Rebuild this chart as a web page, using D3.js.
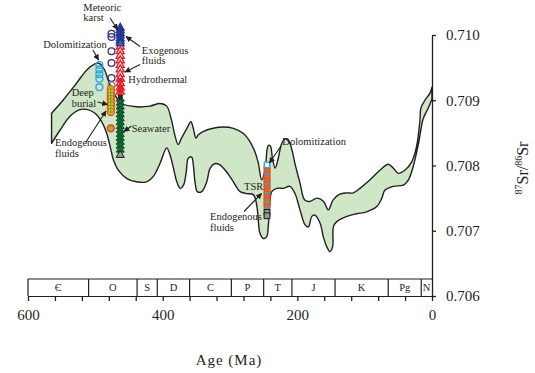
<!DOCTYPE html>
<html>
<head>
<meta charset="utf-8">
<script src="https://cdn.jsdelivr.net/npm/d3@7"></script>
<style>
  html, body { margin: 0; padding: 0; background: #fff; }
  svg { display: block; font-family: "Liberation Serif", "Times New Roman", serif; }
</style>
</head>
<body>
<svg id="chart" width="535" height="373"></svg>
<script>
// ---- Seawater 87Sr/86Sr envelope through the Phanerozoic: [age Ma, ratio] ----
const bandUpper = [
  [565,0.70880],[548,0.70900],[528,0.70926],[513,0.70946],[500,0.70956],[495,0.70957],
  [486,0.70946],[481,0.70931],[471,0.70908],[461,0.70895],[439,0.70890],[419,0.70891],
  [404,0.70895],[394,0.70891],[387,0.70870],[382,0.70847],[377,0.70832],[372,0.70842],
  [364,0.70857],[358,0.70867],[354.5,0.70857],[350.5,0.70842],[347,0.70847],[340,0.70852],
  [325,0.70857],[310,0.70859],[295,0.70857],[280,0.70849],[270,0.70836],[263,0.70821],
  [258,0.70804],[253,0.70778],[248,0.70793],[245,0.70824],[243,0.70831],[240,0.70830],
  [237,0.70811],[233,0.70796],[229,0.70808],[223,0.70834],[218,0.70841],[212,0.70836],
  [208,0.70824],[203.5,0.70803],[196,0.70773],[189,0.70747],[181,0.70745],[171,0.70750],
  [161,0.70745],[154,0.70732],[147,0.70747],[137,0.70756],[127,0.70758],[117,0.70758],
  [107,0.70765],[92,0.70778],[77,0.70793],[65,0.70802],[57.5,0.70796],[50,0.70788],
  [40,0.70793],[30,0.70806],[23,0.70829],[18,0.70868],[16.5,0.70888],[10.5,0.70900],
  [3,0.70911],[0,0.70920]
];
const bandLower = [
  [565,0.70834],[552.5,0.70854],[538,0.70875],[525,0.70885],[513,0.70886],[500.5,0.70880],
  [490.5,0.70867],[483,0.70849],[478,0.70829],[473,0.70808],[466,0.70793],[453,0.70780],
  [439,0.70775],[424,0.70775],[414,0.70783],[404,0.70803],[394,0.70827],[389,0.70816],
  [384,0.70796],[379,0.70775],[374,0.70765],[369,0.70770],[365,0.70790],[362,0.70811],
  [357,0.70813],[354.5,0.70801],[352,0.70775],[348.5,0.70760],[342,0.70760],[334.5,0.70775],
  [329.5,0.70796],[322,0.70803],[315,0.70801],[305,0.70790],[295,0.70775],[285,0.70760],
  [275,0.70757],[265,0.70755],[260,0.70737],[258,0.70716],[255.5,0.70696],[250.5,0.70688],
  [245.5,0.70691],[243,0.70709],[240.5,0.70747],[238,0.70760],[230.5,0.70765],[221,0.70765],
  [211,0.70768],[203.5,0.70757],[196,0.70732],[188.5,0.70709],[183.5,0.70706],[178.5,0.70722],
  [174,0.70724],[166,0.70711],[161.5,0.70691],[156.5,0.70676],[151.5,0.70668],[147.5,0.70676],
  [146.5,0.70706],[141.5,0.70714],[126.5,0.70722],[112,0.70726],[97,0.70729],[82,0.70737],
  [74.5,0.70750],[70,0.70762],[57.5,0.70768],[42.5,0.70770],[35,0.70778],[28,0.70798],
  [20,0.70834],[13,0.70872],[5.5,0.70888],[0,0.70902]
];

// ---- Geological periods ----
const periodNames  = ["Є","O","S","D","C","P","T","J","K","Pg","N"];
const periodStarts = [600, 510, 438, 408, 360, 298, 250, 208, 144, 65, 16];

// ---- Axis ticks ----
const ageTicks = [600,560,520,480,440,400,360,320,280,240,200,160,120,80,40,0];
const ageLabels = [600, 400, 200, 0];
const srTicks = [0.706, 0.707, 0.708, 0.709, 0.710];

// ---- Ordovician carbonate samples (ages in Ma) ----
const karstAge = 476;        const karstSr = [0.71002, 0.70997, 0.70975, 0.70957, 0.70934];
const grayCircleAge = 476;   const grayCircleSr = [0.70923];
const dolomiteAge = 494;     const dolomiteSr = [0.70954, 0.70947, 0.70940, 0.70933, 0.70920];
const triAge = 463;
const exogenousSr = [0.71011, 0.71007, 0.71003, 0.70999, 0.70995, 0.70991, 0.70987];
const hydrothermalSr = [0.70982, 0.70975, 0.70968, 0.70961, 0.70954, 0.70947, 0.70940,
                        0.70933, 0.70926, 0.70919, 0.70913];
const hydrothermalFilledSr = [0.70930, 0.70920, 0.70914];
const blackMarkSr = [0.70909, 0.70906];
const seawaterSr = [0.70902, 0.70896, 0.70890, 0.70884, 0.70878, 0.70872, 0.70866,
                    0.70860, 0.70854, 0.70848, 0.70842, 0.70836, 0.70830, 0.70824];
const grayTriSr = [0.70816];
const burialAge = 477;
const burialSr = [0.70917, 0.70912, 0.70907, 0.70902, 0.70897, 0.70892, 0.70887, 0.70882];
const endoCircleAge = 477;   const endoCircleSr = [0.70857];

// ---- Triassic samples ----
const tsrAge = 245;
const tsrSr = [0.70796, 0.70791, 0.70786, 0.70781, 0.70776, 0.70771, 0.70766, 0.70761,
               0.70756, 0.70751, 0.70746, 0.70741, 0.70736];
const tsrDoloSr = [0.70801, 0.70786, 0.70772, 0.70758, 0.70745, 0.70735];
const tsrGraySr = [0.70728, 0.70723];

// ---- Annotations: text lines anchored in chart units ----
const annotations = [
  { lines: ["Meteoric", "karst"], age: 517.8, sr: 0.710368 },
  { lines: ["Dolomitization"], age: 577.3, sr: 0.709801 },
  { lines: ["Exogenous", "fluids"], age: 431.1, sr: 0.709716 },
  { lines: ["Hydrothermal"], age: 451, sr: 0.709257 },
  { lines: ["Deep", "burial"], age: 535.1, sr: 0.709061 },
  { lines: ["Endogenous", "fluids"], age: 559.9, sr: 0.708294 },
  { lines: ["Seawater"], age: 446, sr: 0.708513 },
  { lines: ["Dolomitization"], age: 222.3, sr: 0.708310 },
  { lines: ["TSR"], age: 279.2, sr: 0.707620 },
  { lines: ["Endogenous", "fluids"], age: 329.7, sr: 0.707160 }
];
const arrows = [
  [[478.2,0.710261],[467.1,0.710084]],
  [[433.6,0.709824],[454.4,0.709977]],
  [[433.6,0.709548],[455.9,0.709433]],
  [[503.5,0.709770],[495.3,0.709617]],
  [[496.8,0.708973],[481.9,0.708935]],
  [[513.9,0.708360],[484.2,0.708835]],
  [[446.3,0.708605],[457.4,0.708521]],
  [[224.3,0.708299],[241.3,0.708038]],
  [[279.2,0.707295],[253.2,0.707571]]
];

// ---- Drawing ----
const svg = d3.select("#chart");
const x = d3.scaleLinear().domain([600, 0]).range([28, 432]);
const y = d3.scaleLinear().domain([0.706, 0.710]).range([296, 35]);
const ink = "#231f20";

// arrowhead
svg.append("defs").append("marker")
  .attr("id", "head").attr("viewBox", "0 0 10 10")
  .attr("refX", 9).attr("refY", 5)
  .attr("markerWidth", 6).attr("markerHeight", 6)
  .attr("markerUnits", "userSpaceOnUse")
  .attr("orient", "auto")
  .append("path").attr("d", "M0,0 L10,5 L0,10 Z").attr("fill", ink);

// envelope
const bandLine = d3.line().x(d => x(d[0])).y(d => y(d[1])).curve(d3.curveCatmullRom.alpha(0.5));
const upperPath = bandLine(bandUpper);
const lowerPath = bandLine(bandLower.slice().reverse());
svg.append("path")
  .attr("d", upperPath + lowerPath.replace(/^M/, "L") + "Z")
  .attr("fill", "#cfe6c7")
  .attr("stroke", ink)
  .attr("stroke-width", 1.4)
  .attr("stroke-linejoin", "round");

// geological time bar
const barTop = y(0.706) - 17;
const periods = periodNames.map((n, i) => ({
  name: n, start: periodStarts[i], end: i + 1 < periodStarts.length ? periodStarts[i + 1] : 0
}));
const bar = svg.append("g");
bar.append("line").attr("x1", x(600)).attr("x2", x(0)).attr("y1", barTop).attr("y2", barTop)
  .attr("stroke", ink).attr("stroke-width", 1.2);
bar.selectAll("line.sep").data(periodStarts).join("line").attr("class", "sep")
  .attr("x1", d => x(d)).attr("x2", d => x(d))
  .attr("y1", barTop).attr("y2", y(0.706))
  .attr("stroke", ink).attr("stroke-width", 1.2);
bar.selectAll("text").data(periods).join("text")
  .attr("x", d => (x(d.start) + x(d.end)) / 2)
  .attr("y", barTop + 12)
  .attr("text-anchor", "middle")
  .attr("font-size", 10.5)
  .attr("fill", ink)
  .text(d => d.name);

// bottom axis
const xAxis = svg.append("g").attr("transform", `translate(0,${y(0.706)})`)
  .call(d3.axisBottom(x).tickValues(ageTicks).tickSize(5).tickSizeOuter(0).tickPadding(8)
    .tickFormat(d => ageLabels.includes(d) ? d : ""));
xAxis.select(".domain").attr("stroke", ink).attr("stroke-width", 1.2);
xAxis.selectAll(".tick line").attr("stroke", ink).attr("stroke-width", 1.3);
xAxis.selectAll(".tick text").attr("font-size", 15).attr("fill", ink)
  .attr("font-family", "Liberation Serif, serif");

// right axis
const yAxis = svg.append("g").attr("transform", `translate(${x(0)},0)`)
  .call(d3.axisRight(y).tickValues(srTicks).tickSize(4).tickSizeOuter(0).tickPadding(10)
    .tickFormat(d3.format(".3f")));
yAxis.select(".domain").attr("stroke", ink).attr("stroke-width", 1.3);
yAxis.selectAll(".tick line").attr("stroke", ink).attr("stroke-width", 1.3);
yAxis.selectAll(".tick text").attr("font-size", 15).attr("fill", ink)
  .attr("font-family", "Liberation Serif, serif");

// axis titles
svg.append("text")
  .attr("x", 229).attr("y", 365)
  .attr("text-anchor", "middle")
  .attr("font-size", 15).attr("letter-spacing", 1).attr("fill", ink)
  .text("Age (Ma)");
const yTitle = svg.append("text")
  .attr("transform", "translate(528,168) rotate(-90)")
  .attr("text-anchor", "middle")
  .attr("font-size", 16).attr("fill", ink);
yTitle.append("tspan").attr("font-size", 10).attr("dy", -6).text("87");
yTitle.append("tspan").attr("dy", 6).text("Sr/");
yTitle.append("tspan").attr("font-size", 10).attr("dy", -6).text("86");
yTitle.append("tspan").attr("dy", 6).text("Sr");

// ---- sample markers ----
const marks = svg.append("g");
const tri = d3.symbol(d3.symbolTriangle, 28)();
const sq = d3.symbol(d3.symbolSquare, 34)();

function circles(age, vals, stroke, fill, r, sw) {
  marks.append("g").selectAll("circle").data(vals).join("circle")
    .attr("cx", x(age)).attr("cy", d => y(d)).attr("r", r)
    .attr("fill", fill).attr("stroke", stroke).attr("stroke-width", sw);
}
function symbols(age, vals, path, stroke, fill, sw) {
  marks.append("g").selectAll("path").data(vals).join("path")
    .attr("d", path)
    .attr("transform", d => `translate(${x(age)},${y(d)})`)
    .attr("fill", fill).attr("stroke", stroke).attr("stroke-width", sw);
}

circles(dolomiteAge, dolomiteSr, "#27aae1", "none", 3.4, 1.4);
circles(karstAge, karstSr, "#2e3192", "none", 3.4, 1.3);
circles(grayCircleAge, grayCircleSr, "#808080", "none", 3.4, 1.4);

// deep burial column: orange with yellow cores and green crosses
circles(burialAge, burialSr, "#ef4b23", "#f7941d", 3.6, 1.1);
circles(burialAge, burialSr, "none", "#ffe600", 2, 0);
marks.append("g").selectAll("path").data(burialSr).join("path")
  .attr("d", d => `M${x(burialAge) - 2.5},${y(d)}h5M${x(burialAge)},${y(d) - 2}v4`)
  .attr("stroke", "#3a9a3f").attr("stroke-width", 0.9);
circles(endoCircleAge, endoCircleSr, "#e8401c", "#b5a642", 3.4, 1.5);

// triangles column
symbols(triAge, seawaterSr, tri, "#063d1c", "#0f7a3a", 0.9);
symbols(triAge, grayTriSr, tri, "#111", "#9a9a9a", 1);
symbols(triAge, blackMarkSr, d3.symbol(d3.symbolSquare, 14)(), "#111", "#333", 0.8);
symbols(triAge, hydrothermalSr, tri, "#ed1c24", "#fff", 1.4);
symbols(triAge, hydrothermalFilledSr, d3.symbol(d3.symbolSquare, 16)(), "#ed1c24", "#ed1c24", 1);
symbols(triAge, exogenousSr, tri, "#1f2f8a", "#4660b8", 1.1);

// Triassic column
symbols(tsrAge, tsrSr, sq, "#d9531e", "#f26522", 1);
marks.append("g").selectAll("rect").data(tsrDoloSr).join("rect")
  .attr("x", x(tsrAge) - 2.5).attr("y", d => y(d) - 1)
  .attr("width", 5).attr("height", 2)
  .attr("fill", "#27aae1").attr("stroke", "none");
symbols(tsrAge, [tsrDoloSr[0]], d3.symbol(d3.symbolSquare, 30)(), "#27aae1", "#fff", 1.4);
symbols(tsrAge, tsrGraySr, sq, "#111", "#9a9a9a", 1);

// ---- annotations ----
const notes = svg.append("g").attr("font-size", 10.5).attr("fill", ink);
annotations.forEach(a => {
  const t = notes.append("text").attr("x", x(a.age)).attr("y", y(a.sr));
  a.lines.forEach((ln, i) => {
    t.append("tspan").attr("x", x(a.age)).attr("dy", i === 0 ? 0 : 10.5).text(ln);
  });
});
svg.append("g").selectAll("line").data(arrows).join("line")
  .attr("x1", d => x(d[0][0])).attr("y1", d => y(d[0][1]))
  .attr("x2", d => x(d[1][0])).attr("y2", d => y(d[1][1]))
  .attr("stroke", ink).attr("stroke-width", 1.1)
  .attr("marker-end", "url(#head)");
</script>
</body>
</html>
